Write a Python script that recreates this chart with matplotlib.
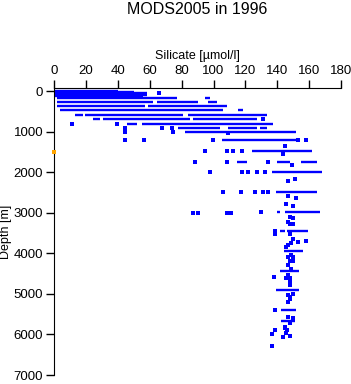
import matplotlib
matplotlib.use("Agg")
import matplotlib.pyplot as plt

plt.rcParams['font.family'] = ['Liberation Sans', 'DejaVu Sans']

# --- DATA ---
# dense rows of samples at one depth: depth [m], silicate from, silicate to
row_depth = [0, 15, 50, 100, 130, 172, 172, 271, 271, 271, 377, 377,
             475, 475, 581, 581, 581, 680, 680, 680, 803, 803,
             911, 911, 911, 1010, 1210, 1485, 1749, 1749, 1749, 1995,
             2488, 2980, 2980, 3448, 3448, 3948, 4441, 4909, 5401, 5665]
row_from = [0, 0, 0, 0, 0, 1.7, 94.5, 1.7, 64.4, 96.2, 1.7, 58.7,
            3.6, 115.2, 13, 19.2, 83.8, 24.3, 30.5, 87, 45.6, 55,
            77.6, 108.9, 128.9, 82, 105, 124, 155, 139.6, 115, 136.5,
            139, 144.7, 139.6, 145.9, 141.5, 144, 141.5, 139.4, 142.6, 142.6]
row_to = [40, 50, 58, 58, 56, 76.9, 97.6, 61.9, 90.1, 102, 56.9, 108.3,
          105.8, 118.3, 18, 80.7, 133.3, 28.7, 85.1, 127.1, 51.8, 137,
          103.9, 127.1, 133.3, 152, 152, 162, 165, 147.8, 121, 168,
          165, 166.6, 141.5, 159.1, 144.7, 156.1, 153.4, 153.4, 151.5, 150.9]

# single samples
pt_si = [66, 130.8, 11.1, 39.3, 44.3, 67.5, 73.8, 44.3, 74.4, 44.3, 56.2,
         108.9, 99.5, 153, 158, 144.7, 94.5, 108.3, 112, 117.7, 143.4,
         88.2, 108.3, 134, 149.1, 97.6, 117.7, 121.4, 127.1, 132.1, 151,
         146.6, 105.8, 117, 125.8, 130.9, 134, 146.6, 151.6,
         145.7, 149.6, 87, 90.1, 108.3, 110.8, 129.5, 147.8, 149.6, 146.6,
         147.8, 149.6, 138.4, 138.4, 148.2, 149.6, 152.8, 157.8, 148.8,
         146.6, 145.7, 148.8, 146.6, 149.6, 147.8, 149.6, 146.6, 148.8,
         137.7, 146.6, 147.8, 145.7, 147.8, 147.8, 146.6, 149.6, 147.8,
         147.8, 146.6, 138.4, 146.6, 149.6, 148.2, 144.7, 144.7, 146.1,
         145.7, 138.4, 136.9, 143.6, 147.8, 136.9]
pt_depth = [60, 680, 803, 803, 911, 911, 911, 1010, 1000, 1214, 1214,
            1042, 1214, 1214, 1214, 1355, 1485, 1485, 1485, 1485, 1559,
            1749, 1749, 1749, 1830, 1995, 1995, 1995, 1995, 1995, 2160,
            2207, 2488, 2488, 2488, 2488, 2488, 2586, 2643,
            2791, 2840, 2995, 2995, 2995, 2995, 2980, 3103, 3135, 3227,
            3283, 3283, 3448, 3530, 3515, 3653, 3719, 3700, 3735,
            3800, 3857, 4047, 4103, 4103, 4187, 4187, 4293, 4375,
            4596, 4539, 4621, 4621, 4704, 4786, 5020, 5003, 5085,
            5126, 5207, 5401, 5567, 5606, 5730, 5813, 5853, 5894,
            5960, 5894, 5993, 6059, 6042, 6288]

# flagged sample
flag_si = [0]
flag_depth = [1500]

# --- PLOT ---
fig = plt.figure(figsize=(3.51, 3.84), dpi=100)
ax = fig.add_axes([0.1547, 0.0234, 0.8168, 0.7474])

ax.hlines(row_depth, row_from, row_to, color='#0000ff', linewidth=1.7)
ax.scatter(pt_si, pt_depth, s=5, marker='s', color='#0000ff', linewidths=0)
ax.scatter(flag_si, flag_depth, s=5, marker='s', color='orange',
           linewidths=0, zorder=5, clip_on=False)

ax.set_xlim(0, 180)
ax.set_ylim(7000, -74)
ax.set_xticks(range(0, 181, 20))
ax.set_yticks(range(0, 7001, 1000))
ax.xaxis.tick_top()
ax.xaxis.set_label_position('top')
ax.spines['right'].set_visible(False)
ax.spines['bottom'].set_visible(False)
ax.tick_params(direction='out', length=6, width=1, labelsize=9.5, pad=2)

ax.set_xlabel("Silicate [µmol/l]", fontsize=9, labelpad=4)
ax.set_ylabel("Depth [m]", fontsize=9, labelpad=1)
fig.text(0.5625, 0.974, "MODS2005 in 1996", ha='center', va='center',
         fontsize=11.5)

fig.savefig("out.png", dpi=100)
